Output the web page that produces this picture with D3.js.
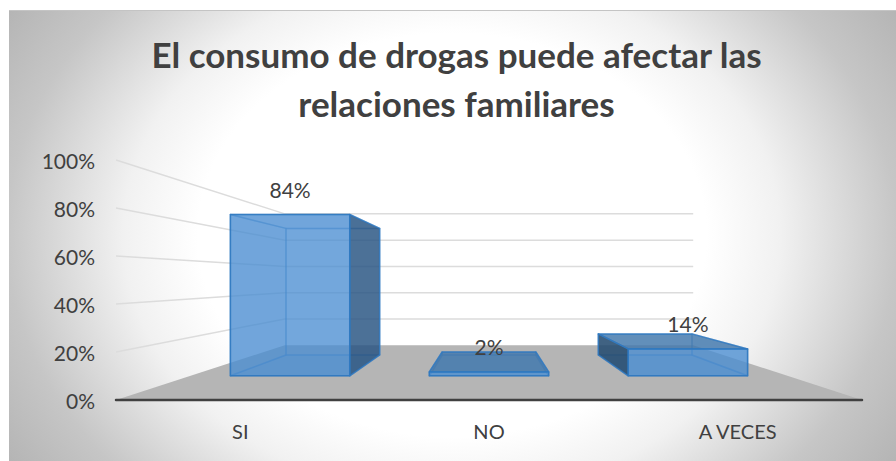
<!DOCTYPE html>
<html lang="es">
<head>
<meta charset="utf-8">
<title>El consumo de drogas</title>
<script src="https://d3js.org/d3.v7.min.js"></script>
<style>
  html, body { margin: 0; padding: 0; background: #fff; }
  svg { display: block; }
  text { font-family: Lato, "Open Sans", sans-serif; fill: #404040; }
</style>
</head>
<body>
<div id="chart"></div>
<script>
// data
var titleLines = ["El consumo de drogas puede afectar las", "relaciones familiares"];
var categories = ["SI", "NO", "A VECES"];
var seriesValues = [0.84, 0.02, 0.14];
var tickValues = [0, 0.2, 0.4, 0.6, 0.8, 1];

var width = 896, height = 461;

var svg = d3.select("#chart").append("svg")
  .attr("width", width)
  .attr("height", height);

// card background
var defs = svg.append("defs");
var grad = defs.append("radialGradient")
  .attr("id", "cardBg")
  .attr("gradientUnits", "userSpaceOnUse")
  .attr("cx", 0).attr("cy", 0).attr("r", 1)
  .attr("gradientTransform", "translate(452,235) scale(530,420)");
grad.append("stop").attr("offset", "0.48").attr("stop-color", "#ffffff");
grad.append("stop").attr("offset", "0.62").attr("stop-color", "#f1f1f1");
grad.append("stop").attr("offset", "0.84").attr("stop-color", "#c6c6c6");
grad.append("stop").attr("offset", "1").attr("stop-color", "#b4b4b4");

svg.append("rect")
  .attr("x", 9).attr("y", 10)
  .attr("width", width - 9).attr("height", height - 10)
  .attr("fill", "url(#cardBg)");
svg.append("line")
  .attr("x1", 9).attr("x2", width).attr("y1", 10.5).attr("y2", 10.5)
  .attr("stroke", "#c4c4c4").attr("stroke-width", 1);

// title
svg.append("g").selectAll("text")
  .data(titleLines)
  .enter().append("text")
    .attr("x", 456.5)
    .attr("y", function(d, i) { return 68 + i * 49; })
    .attr("text-anchor", "middle")
    .style("font-size", "35px")
    .style("font-weight", 700)
    .text(function(d) { return d; });

// scales on the front plane of the box
var x = d3.scaleBand()
  .domain(categories)
  .range([116, 862])
  .paddingInner(0.4)
  .paddingOuter(0.2);
var y = d3.scaleLinear()
  .domain([0, 1])
  .range([400, 160]);

// perspective, everything runs to the vanishing point
var vpX = 489, vpY = 279;
var backDepth = 0.5475, barFront = 0.8, barBack = 0.628;

function project(px, v, s) {
  return [vpX + (px - vpX) * s, vpY + (y(v) - vpY) * s];
}
function poly(points) {
  return points.map(function(p) { return p.join(","); }).join(" ");
}

// floor
svg.append("polygon")
  .attr("points", poly([
    project(x.range()[0], 0, 1),
    project(x.range()[1], 0, 1),
    project(x.range()[1], 0, backDepth),
    project(x.range()[0], 0, backDepth)
  ]))
  .attr("fill", "#b5b5b5");

// gridlines, left wall + back wall
var gridG = svg.append("g")
  .attr("fill", "none")
  .attr("stroke", "#dcdcdc")
  .attr("stroke-width", 1.5);
tickValues.slice(1).forEach(function(t) {
  gridG.append("polyline").attr("points", poly([
    project(x.range()[0], t, 1),
    project(x.range()[0], t, backDepth),
    project(x.range()[1], t, backDepth)
  ]));
});

// axes
var yAxis = svg.append("g")
  .attr("transform", "translate(116,0)")
  .call(d3.axisLeft(y).tickValues(tickValues).tickFormat(d3.format(".0%")).tickSize(0).tickPadding(21));
yAxis.select(".domain").remove();
yAxis.selectAll("text")
  .attr("dy", "0.42em")
  .style("font-size", "21px")
  .style("font-family", "Lato");

var xAxis = svg.append("g")
  .attr("transform", "translate(0,400)")
  .call(d3.axisBottom(x).tickSize(0).tickPadding(25));
xAxis.select(".domain").remove();
xAxis.selectAll("text")
  .style("font-size", "20px")
  .style("font-family", "Lato");

svg.append("line")
  .attr("x1", x.range()[0]).attr("x2", x.range()[1])
  .attr("y1", y(0)).attr("y2", y(0))
  .attr("stroke", "#404040").attr("stroke-width", 2.5)
  .attr("stroke-linecap", "round");

// bars
var faceBlue = "#4b8ed1", sideDark = "#285280", sideDarker = "#254a6d", topDark = "#4378ab";

categories.forEach(function(c, i) {
  var v = seriesValues[i];
  var x0 = x(c), x1 = x(c) + x.bandwidth();
  var g = svg.append("g")
    .attr("stroke", "#2e78c0")
    .attr("stroke-width", 1.5)
    .attr("stroke-linejoin", "round");

  function face(a, b, c2, d, fill, op, edge) {
    g.append("polygon")
      .attr("points", poly([a, b, c2, d]))
      .attr("fill", fill)
      .attr("fill-opacity", op)
      .attr("stroke-opacity", edge);
  }

  var fb0 = project(x0, 0, barFront), fb1 = project(x1, 0, barFront),
      ft0 = project(x0, v, barFront), ft1 = project(x1, v, barFront),
      bb0 = project(x0, 0, barBack), bb1 = project(x1, 0, barBack),
      bt0 = project(x0, v, barBack), bt1 = project(x1, v, barBack);

  var leftSeen = x0 > vpX;
  var rightSeen = x1 < vpX;
  var topSeen = bt0[1] < ft0[1];

  // hidden faces first
  face(bb0, bb1, bt1, bt0, faceBlue, 0.2, 0.35);
  face(fb0, fb1, bb1, bb0, faceBlue, 0.35, 0.35);
  if (!leftSeen) face(fb0, ft0, bt0, bb0, faceBlue, 0.25, 0.35);
  if (!rightSeen) face(fb1, ft1, bt1, bb1, faceBlue, 0.25, 0.35);
  if (!topSeen) face(ft0, ft1, bt1, bt0, faceBlue, 0.25, 0.35);

  // faces turned to the viewer
  if (leftSeen) face(fb0, ft0, bt0, bb0, sideDarker, 0.85, 0.8);
  if (rightSeen) face(fb1, ft1, bt1, bb1, sideDark, 0.8, 0.8);
  if (topSeen) face(ft0, ft1, bt1, bt0, topDark, 0.8, 0.8);
  face(fb0, fb1, ft1, ft0, faceBlue, 0.72, 0.9);
});

// value labels
svg.append("g").selectAll("text")
  .data(seriesValues)
  .enter().append("text")
    .attr("x", function(d, i) { return vpX + (x(categories[i]) + x.bandwidth() / 2 - vpX) * barFront; })
    .attr("y", function(d) { return project(0, d, barFront)[1] - 17; })
    .attr("text-anchor", "middle")
    .style("font-size", "21px")
    .text(d3.format(".0%"));
</script>
</body>
</html>
